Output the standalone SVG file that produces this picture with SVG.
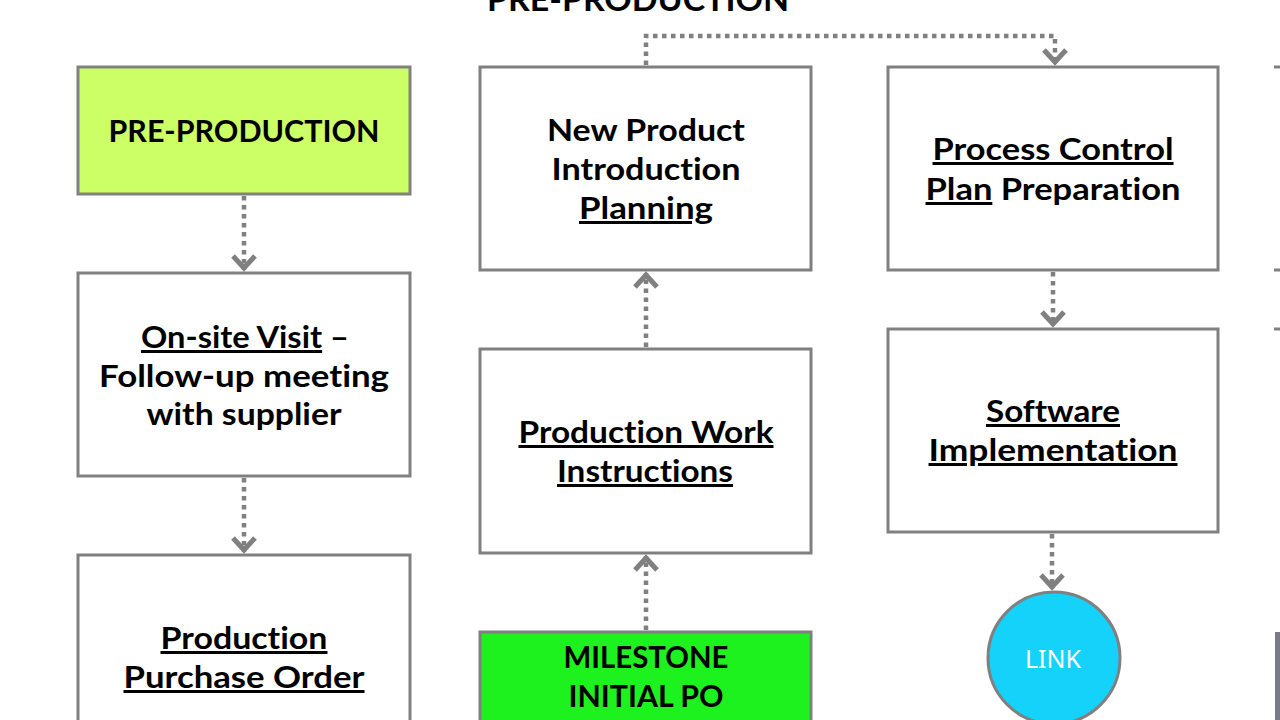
<svg xmlns="http://www.w3.org/2000/svg" width="1280" height="720" viewBox="0 0 1280 720">
<defs>
<style>
.box{fill:#ffffff;stroke:#808080;stroke-width:3}
.t{font-family:Lato,"Noto Sans","DejaVu Sans",sans-serif;font-weight:700;font-size:30px;fill:#000;text-anchor:middle;font-variant-ligatures:none}
.u{text-decoration:underline}
.c{fill:none;stroke:#808080;stroke-width:4.5;stroke-dasharray:4.5 4.5}
</style>
<marker id="ah" viewBox="-18 -14 22 28" refX="0" refY="0" markerWidth="22" markerHeight="28" markerUnits="userSpaceOnUse" orient="auto">
<path d="M-14,-11 L-2,0 L-14,11" fill="none" stroke="#808080" stroke-width="5"/>
</marker>
</defs>
<rect width="1280" height="720" fill="#ffffff"/>
<text x="638" y="11" class="t" textLength="302" lengthAdjust="spacingAndGlyphs" style="font-size:32px">PRE-PRODUCTION</text>

<g id="connectors">
<path class="c" d="M244,196 L244,270" marker-end="url(#ah)"/>
<path class="c" d="M244,478 L244,552" marker-end="url(#ah)"/>
<path class="c" d="M646,630 L646,556" marker-end="url(#ah)"/>
<path class="c" d="M646,347 L646,273" marker-end="url(#ah)"/>
<path class="c" d="M646,65 L646,36 L1055,36 L1055,64" marker-end="url(#ah)"/>
<path class="c" d="M1053,272 L1053,326" marker-end="url(#ah)"/>
<path class="c" d="M1052,534 L1052,589" marker-end="url(#ah)"/>
</g>

<g id="pre-production">
<rect class="box" x="78" y="67" width="332" height="127" style="fill:#ccff66"/>
<text class="t" x="244" y="142" textLength="271" lengthAdjust="spacingAndGlyphs">PRE-PRODUCTION</text>
</g>

<g id="onsite-visit">
<rect class="box" x="78" y="273" width="332" height="203"/>
<text class="t" x="245" y="348" textLength="208" lengthAdjust="spacingAndGlyphs"><tspan class="u">On-site Visit</tspan> –</text>
<text class="t" x="244" y="387" textLength="290" lengthAdjust="spacingAndGlyphs">Follow-up meeting</text>
<text class="t" x="244" y="425" textLength="195" lengthAdjust="spacingAndGlyphs">with supplier</text>
</g>

<g id="purchase-order">
<rect class="box" x="78" y="555" width="332" height="190"/>
<text class="t u" x="244" y="649" textLength="167" lengthAdjust="spacingAndGlyphs">Production</text>
<text class="t u" x="244" y="688" textLength="241" lengthAdjust="spacingAndGlyphs">Purchase Order</text>
</g>

<g id="npi-planning">
<rect class="box" x="480" y="67" width="331" height="203"/>
<text class="t" x="646" y="141" textLength="198" lengthAdjust="spacingAndGlyphs">New Product</text>
<text class="t" x="646" y="180" textLength="189" lengthAdjust="spacingAndGlyphs">Introduction</text>
<text class="t u" x="646" y="219" textLength="134" lengthAdjust="spacingAndGlyphs">Planning</text>
</g>

<g id="work-instructions">
<rect class="box" x="480" y="349" width="331" height="204"/>
<text class="t u" x="646" y="443" textLength="255" lengthAdjust="spacingAndGlyphs">Production Work</text>
<text class="t u" x="645" y="482" textLength="176" lengthAdjust="spacingAndGlyphs">Instructions</text>
</g>

<g id="milestone">
<rect class="box" x="480" y="632" width="331" height="110" style="fill:#1ef21e"/>
<text class="t" x="646" y="668" textLength="165" lengthAdjust="spacingAndGlyphs">MILESTONE</text>
<text class="t" x="646" y="707" textLength="155" lengthAdjust="spacingAndGlyphs">INITIAL PO</text>
</g>

<g id="control-plan">
<rect class="box" x="888" y="67" width="330" height="203"/>
<text class="t u" x="1053" y="160" textLength="241" lengthAdjust="spacingAndGlyphs">Process Control</text>
<text class="t" x="1053" y="200" textLength="255" lengthAdjust="spacingAndGlyphs"><tspan class="u">Plan</tspan> Preparation</text>
</g>

<g id="software">
<rect class="box" x="888" y="329" width="330" height="203"/>
<text class="t u" x="1053" y="422" textLength="134" lengthAdjust="spacingAndGlyphs">Software</text>
<text class="t u" x="1053" y="461" textLength="249" lengthAdjust="spacingAndGlyphs">Implementation</text>
</g>

<g id="link">
<circle cx="1054" cy="658" r="66" fill="#14d2fa" stroke="#808080" stroke-width="3"/>
<text x="1053" y="668" text-anchor="middle" font-family="'Noto Sans','Open Sans',sans-serif" font-size="25" fill="#ffffff" textLength="56" lengthAdjust="spacingAndGlyphs">LINK</text>
</g>

<g id="edge-fragments" stroke="#808080" stroke-width="3">
<line x1="1274" y1="67" x2="1280" y2="67"/>
<line x1="1274" y1="270" x2="1280" y2="270"/>
<line x1="1274" y1="329" x2="1280" y2="329"/>
<rect x="1275" y="632" width="5" height="88" fill="#7a7a8a" stroke="none"/>
</g>
</svg>
